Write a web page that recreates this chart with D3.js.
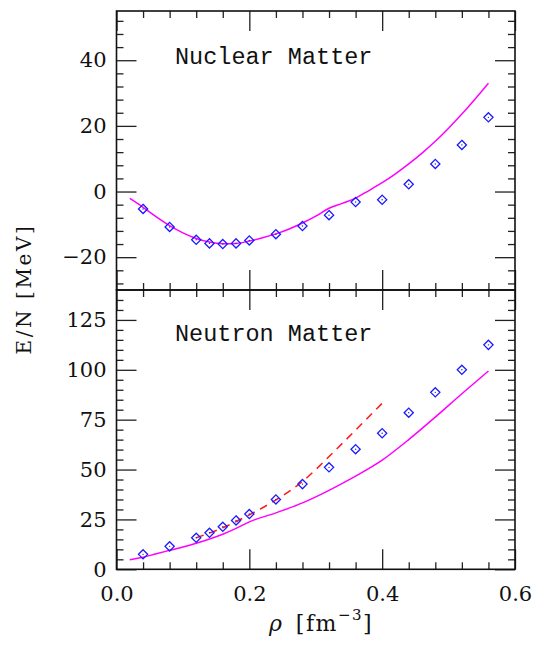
<!DOCTYPE html>
<html>
<head>
<meta charset="utf-8">
<script src="https://cdn.jsdelivr.net/npm/d3@7"></script>
<style>
  body { margin: 0; background: #fff; }
  .tick text { font-family: "DejaVu Serif", serif; font-size: 21px; fill: #111; }
  .tick line { stroke: #222; stroke-width: 1.3; }
  .domain { display: none; }
</style>
</head>
<body>
<div class="container"></div>
<script>
// diamonds (same densities for both panels)
var rhoPts = [0.04, 0.08, 0.12, 0.14, 0.16, 0.18, 0.20, 0.24, 0.28, 0.32, 0.36, 0.40, 0.44, 0.48, 0.52, 0.56];
var nuclearPts = [-5.3, -10.8, -14.7, -15.8, -16.0, -15.8, -14.9, -13.0, -10.5, -7.2, -3.2, -2.5, 2.2, 8.4, 14.2, 22.6];
var neutronPts = [7.5, 11.5, 15.8, 18.3, 21.3, 24.5, 27.7, 35.0, 42.7, 51.1, 60.2, 68.2, 78.5, 88.7, 100.0, 112.5];

// magenta curve, nuclear matter
var rhoNucLine = [0.02, 0.04, 0.06, 0.08, 0.10, 0.12, 0.14, 0.16, 0.18, 0.20, 0.22, 0.24, 0.26, 0.28, 0.30, 0.32, 0.34, 0.36, 0.38, 0.40, 0.42, 0.44, 0.46, 0.48, 0.50, 0.52, 0.54, 0.56];
var nucLine = [-2.1, -4.8, -7.7, -10.4, -12.6, -14.3, -15.4, -15.9, -15.8, -15.1, -14.1, -12.9, -11.4, -9.6, -7.5, -5.1, -3.6, -2.0, 0.3, 2.7, 5.4, 8.4, 11.7, 15.3, 19.3, 23.6, 28.2, 33.0];

// magenta curve, neutron matter
var rhoNeuLine = [0.02, 0.04, 0.06, 0.08, 0.10, 0.12, 0.14, 0.16, 0.18, 0.20, 0.24, 0.28, 0.32, 0.36, 0.40, 0.44, 0.48, 0.52, 0.56];
var neuLine = [4.8, 6.0, 7.8, 9.5, 11.2, 13.1, 15.2, 17.6, 20.5, 23.8, 28.3, 33.3, 39.6, 46.7, 54.7, 65.0, 76.3, 88.0, 99.4];

// red dashed curve, neutron matter
var rhoDash = [0.12, 0.16, 0.20, 0.24, 0.28, 0.32, 0.36, 0.40];
var dashLine = [15.8, 20.8, 27.3, 34.8, 44.0, 56.5, 69.8, 83.2];

var xMajor = [0, 0.2, 0.4, 0.6];
var xMinor = [0.04, 0.08, 0.12, 0.16, 0.24, 0.28, 0.32, 0.36, 0.44, 0.48, 0.52, 0.56];
var topMajor = [-20, 0, 20, 40];
var topMinor = [-28, -24, -16, -12, -8, -4, 4, 8, 12, 16, 24, 28, 32, 36, 44, 48, 52];
var botMajor = [0, 25, 50, 75, 100, 125];
var botMinor = [5, 10, 15, 20, 30, 35, 40, 45, 55, 60, 65, 70, 80, 85, 90, 95, 105, 110, 115, 120, 130, 135];

var width = 541, height = 645,
  frameL = 116.5, frameR = 515,
  frameT = 11, frameM = 290, frameB = 569.3,
  majorLen = 20, minorLen = 7;

var svg = d3.select(".container").append("svg")
  .attr("width", width)
  .attr("height", height);

var x = d3.scaleLinear().domain([0, 0.6]).range([frameL, frameR]);
var yTop = d3.scaleLinear().domain([-30, 55]).range([frameM, frameT]);
var yBot = d3.scaleLinear().domain([0, 140]).range([frameB, frameM]);

function minus(d) { return d < 0 ? "\u2212" + Math.abs(d) : d; }

// draw one set of ticks
function ticks(axis, vals, len, pos, fmt) {
  return svg.append("g").attr("transform", pos)
    .call(axis.tickValues(vals).tickSize(-len).tickSizeOuter(0).tickFormat(fmt || ""));
}

function panelTicks(y, major, minor, showX) {
  var y0 = y.range()[0], y1 = y.range()[1];
  // left
  ticks(d3.axisLeft(y).tickPadding(10), major, majorLen, "translate(" + frameL + ",0)", minus);
  ticks(d3.axisLeft(y), minor, minorLen, "translate(" + frameL + ",0)");
  // right
  ticks(d3.axisRight(y), major, majorLen, "translate(" + frameR + ",0)");
  ticks(d3.axisRight(y), minor, minorLen, "translate(" + frameR + ",0)");
  // top
  ticks(d3.axisTop(x), xMajor, majorLen, "translate(0," + y1 + ")");
  ticks(d3.axisTop(x), xMinor, minorLen, "translate(0," + y1 + ")");
  // bottom
  ticks(d3.axisBottom(x).tickPadding(17), xMajor, majorLen, "translate(0," + y0 + ")",
    showX ? d3.format(".1f") : "");
  ticks(d3.axisBottom(x), xMinor, minorLen, "translate(0," + y0 + ")");
}

panelTicks(yTop, topMajor, topMinor, false);
panelTicks(yBot, botMajor, botMinor, true);

// frames
[[frameT, frameM], [frameM, frameB]].forEach(function(p) {
  svg.append("rect")
    .attr("x", frameL).attr("y", p[0])
    .attr("width", frameR - frameL).attr("height", p[1] - p[0])
    .attr("fill", "none").attr("stroke", "#111").attr("stroke-width", 1.6);
});

function drawLine(xs, ys, y, color, dash) {
  var line = d3.line()
    .x(function(d) { return x(d[0]); })
    .y(function(d) { return y(d[1]); })
    .curve(d3.curveMonotoneX);
  svg.append("path")
    .datum(d3.zip(xs, ys))
    .attr("d", line)
    .attr("fill", "none")
    .attr("stroke", color)
    .attr("stroke-width", 1.5)
    .attr("stroke-dasharray", dash || null);
}

function drawDiamonds(xs, ys, y) {
  var g = svg.append("g");
  var pts = d3.zip(xs, ys);
  g.selectAll("path").data(pts).enter().append("path")
    .attr("transform", function(d) { return "translate(" + x(d[0]) + "," + y(d[1]) + ")"; })
    .attr("d", "M0,-4.6L4.6,0L0,4.6L-4.6,0Z")
    .attr("fill", "none")
    .attr("stroke", "#1a1aff")
    .attr("stroke-width", 1.3);
  g.selectAll("circle").data(pts).enter().append("circle")
    .attr("cx", function(d) { return x(d[0]); })
    .attr("cy", function(d) { return y(d[1]); })
    .attr("r", 0.7)
    .attr("fill", "#1a1aff");
}

drawLine(rhoNucLine, nucLine, yTop, "#ff00ff");
drawDiamonds(rhoPts, nuclearPts, yTop);

drawLine(rhoNeuLine, neuLine, yBot, "#ff00ff");
drawLine(rhoDash, dashLine, yBot, "#ff1a1a", "8,6");
drawDiamonds(rhoPts, neutronPts, yBot);

// panel titles
svg.append("text")
  .attr("x", 175).attr("y", 63.5)
  .style("font-family", "Liberation Mono, monospace")
  .style("font-size", "23.5px")
  .attr("fill", "#111")
  .text("Nuclear Matter");
svg.append("text")
  .attr("x", 175).attr("y", 341)
  .style("font-family", "Liberation Mono, monospace")
  .style("font-size", "23.5px")
  .attr("fill", "#111")
  .text("Neutron Matter");

// axis titles
svg.append("text")
  .attr("transform", "translate(31,289) rotate(-90)")
  .attr("text-anchor", "middle")
  .style("font-family", "DejaVu Serif, serif")
  .style("font-size", "20px")
  .style("letter-spacing", "2.6px")
  .attr("fill", "#111")
  .text("E/N [MeV]");

var xt = svg.append("text")
  .attr("x", 321).attr("y", 631)
  .attr("text-anchor", "middle")
  .style("font-family", "DejaVu Serif, serif")
  .style("font-size", "22px")
  .style("letter-spacing", "1.5px")
  .attr("fill", "#111");
xt.append("tspan").style("font-style", "italic").text("\u03c1");
xt.append("tspan").text("\u2002[fm");
xt.append("tspan").attr("dy", -11).style("font-size", "15px").text("\u22123");
xt.append("tspan").attr("dy", 11).text("]");
</script>
</body>
</html>
